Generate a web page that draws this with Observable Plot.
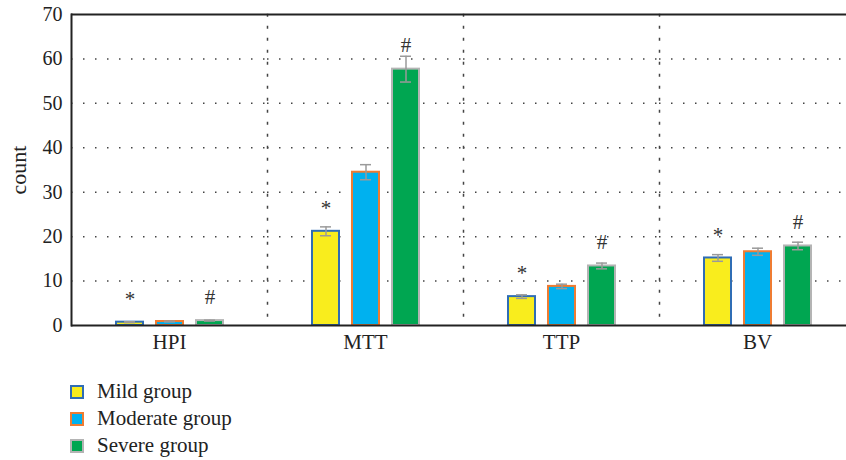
<!DOCTYPE html>
<html><head><meta charset="utf-8">
<script src="https://cdn.jsdelivr.net/npm/d3@7"></script>
<script src="https://cdn.jsdelivr.net/npm/@observablehq/plot@0.6"></script>
<style>
body{margin:0;background:#fff;font-family:"Liberation Serif",serif;}
#wrap{width:846px;overflow:hidden;}
#wrap svg{overflow:hidden;}
.legend{margin-left:70px;margin-top:13px;}
.row{display:flex;align-items:center;height:27px;font-size:21px;color:#222;}
.sw{width:10px;height:10px;border:2px solid;margin-right:13px;}
</style></head><body><div id="wrap"></div><script>
const groups = ["HPI", "MTT", "TTP", "BV"];
const seriesNames = ["Mild group", "Moderate group", "Severe group"];
const mildValues = [0.75, 21.2, 6.5, 15.2];
const moderateValues = [0.9, 34.5, 8.8, 16.6];
const severeValues = [1.1, 57.7, 13.4, 17.9];
const mildErrors = [0.1, 1.0, 0.4, 0.75];
const moderateErrors = [0.1, 1.7, 0.5, 0.8];
const severeErrors = [0.1, 2.9, 0.65, 0.85];
const fillColors = ["#f9ed1d", "#00b1ef", "#00a651"];
const strokeColors = ["#2f6db5", "#ef7c32", "#b4b4b4"];
const mildMarkText = "*";
const severeMarkText = "#";
const mildMarkY = [6.0, 26.4, 11.8, 20.2];
const severeMarkY = [6.3, 63.0, 18.7, 23.2];
const yTicks = [0, 10, 20, 30, 40, 50, 60, 70];
const gridTicks = [10, 20, 30, 40, 50, 60];

const valueSets = [mildValues, moderateValues, severeValues];
const errorSets = [mildErrors, moderateErrors, severeErrors];
const rows = [];
groups.forEach((g, gi) => seriesNames.forEach((s, si) => rows.push({
  group: g, series: s, value: valueSets[si][gi], err: errorSets[si][gi],
  fill: fillColors[si], stroke: strokeColors[si]
})));
const notes = [];
groups.forEach((g, gi) => {
  notes.push({group: g, series: seriesNames[0], y: mildMarkY[gi], text: mildMarkText});
  notes.push({group: g, series: seriesNames[2], y: severeMarkY[gi], text: severeMarkText});
});

const dots = {stroke: "#444", strokeWidth: 1.5, strokeDasharray: "1.5,10.5"};
const chart = Plot.plot({
  width: 846, height: 365,
  marginLeft: 70, marginRight: -9, marginTop: 14, marginBottom: 40,
  style: {fontFamily: "'Liberation Serif', serif", fontSize: "20px", color: "#222", background: "white"},
  fx: {domain: groups, padding: 0, label: null},
  x: {domain: seriesNames, paddingInner: 0.325, paddingOuter: 1.1125, axis: null},
  y: {domain: [0, 70], label: null},
  color: {type: "identity"},
  marks: [
    Plot.ruleY(gridTicks, dots),
    Plot.frame({anchor: "right", ...dots}),
    Plot.barY(rows, {fx: "group", x: "series", y: "value", fill: "fill", stroke: "stroke", strokeWidth: 2}),
    Plot.ruleX(rows, {fx: "group", x: "series", y1: d => d.value - d.err, y2: d => d.value + d.err, stroke: "#9a9a9a", strokeWidth: 1.5}),
    Plot.tickY(rows, {fx: "group", x: "series", y: d => d.value - d.err, inset: 8, stroke: "#9a9a9a", strokeWidth: 1.5}),
    Plot.tickY(rows, {fx: "group", x: "series", y: d => d.value + d.err, inset: 8, stroke: "#9a9a9a", strokeWidth: 1.5}),
    Plot.text(notes, {fx: "group", x: "series", y: "y", text: "text", fontSize: 21, fill: "#333"}),
    Plot.ruleY([0], {stroke: "#222", strokeWidth: 2}),
    Plot.ruleY([70], {stroke: "#222", strokeWidth: 2}),
    Plot.frame({anchor: "left", fx: () => groups[0], stroke: "#222", strokeWidth: 2}),
    Plot.axisY({ticks: yTicks, tickSize: 0, tickPadding: 9, label: null, fontSize: 20}),
    Plot.axisY({ticks: [], label: "count", labelAnchor: "center", labelArrow: "none", labelOffset: 61, fontSize: 22}),
    Plot.axisFx({anchor: "bottom", tickSize: 0, tickPadding: 9, label: null, fontSize: 21})
  ]
});
const wrap = document.getElementById("wrap");
wrap.appendChild(chart);
const legend = document.createElement("div");
legend.className = "legend";
seriesNames.forEach((s, i) => {
  const row = document.createElement("div");
  row.className = "row";
  const sw = document.createElement("span");
  sw.className = "sw";
  sw.style.background = fillColors[i];
  sw.style.borderColor = strokeColors[i];
  row.appendChild(sw);
  const t = document.createElement("span");
  t.textContent = s;
  row.appendChild(t);
  legend.appendChild(row);
});
wrap.appendChild(legend);
</script></body></html>
